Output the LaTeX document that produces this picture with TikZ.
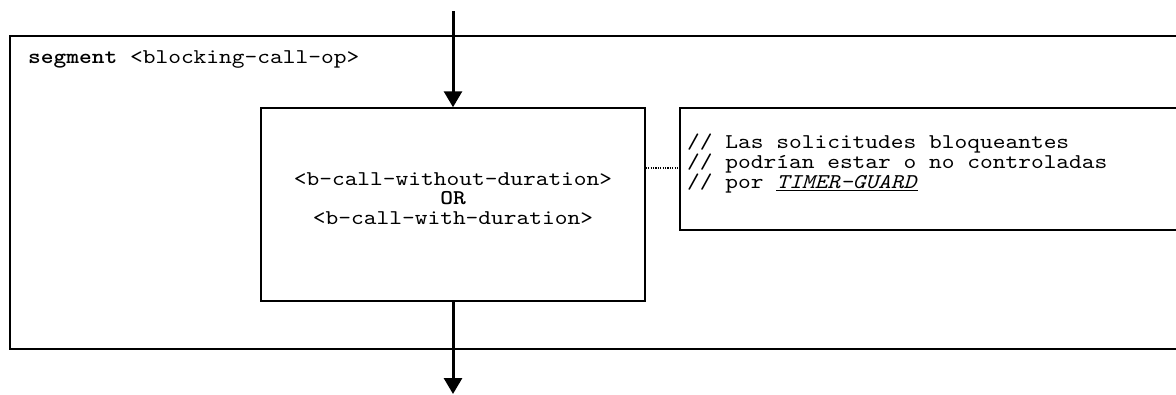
\documentclass[tikz,border=0pt]{standalone}
\usepackage{fontspec}
\setmonofont{lmmono10-regular.otf}[BoldFont=lmmonolt10-bold.otf, ItalicFont=lmmono10-italic.otf, FakeStretch=1.155]
\usetikzlibrary{arrows.meta}
\tikzset{
  frame/.style={line width=1.5pt, line cap=rect},
  flow/.style={line width=3pt, -{Triangle[length=16pt,width=18pt]}},
  mono/.style={font=\fontsize{21}{19}\selectfont\ttfamily, inner sep=0pt},
  stepbox/.style={draw, line width=1.5pt, minimum width=384pt, minimum height=193pt, inner sep=0pt},
  noteline/.style={line width=1.3pt, dash pattern=on 1.2pt off 1.2pt}
}
\begin{document}
\begin{tikzpicture}[x=1pt,y=-1pt]
\useasboundingbox (0,0) rectangle (1176,394);
% outer segment frame (open to the right)
\draw[frame] (1177,36) -- (10,36) -- (10,349) -- (1177,349);
\node[mono, anchor=base west] (seglabel) at (28,63) {\textbf{segment} <blocking-call-op>};
% inner box
\node[stepbox] (inner) at (453,204.5) {};
\node[mono, anchor=base] (innertext) at (453,185) {\parbox[t]{380pt}{\centering\baselineskip=19.5pt <b-call-without-duration>\\\textbf{OR}\\<b-call-with-duration>}};
% comment box (open to the right)
\draw[frame] (1177,108) -- (680,108) -- (680,230) -- (1177,230);
\coordinate (cmt) at (680,168);
\node[mono, anchor=base west] (note) at (687,148) {\parbox[t]{480pt}{\raggedright\baselineskip=18pt // Las solicitudes bloqueantes\\// podrían estar o no controladas\\// por \underline{\textit{TIMER-GUARD}}}};
\draw[noteline] (inner.east |- cmt) -- (cmt);
% flow arrows
\coordinate (top) at (453,11);
\coordinate (bot) at (453,394);
\draw[flow] (top) -- (inner.north);
\draw[flow] (inner.south) -- (bot);
\end{tikzpicture}
\end{document}
